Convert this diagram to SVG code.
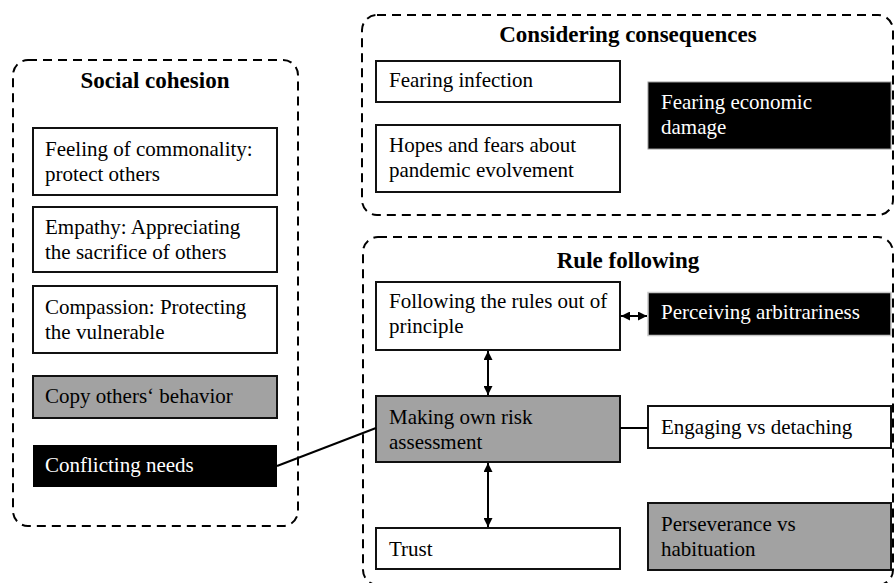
<svg xmlns="http://www.w3.org/2000/svg" width="895" height="583" viewBox="0 0 895 583">
<defs>
<marker id="ah" viewBox="0 0 10 10" refX="10" refY="5" markerWidth="9" markerHeight="9" markerUnits="userSpaceOnUse" orient="auto-start-reverse">
<path d="M0,0 L10,5 L0,10 z" fill="#000"/>
</marker>
<style>
.grp{fill:none;stroke:#000;stroke-width:2;stroke-dasharray:9,6}
.title{font-family:"Liberation Serif","Times New Roman",serif;font-size:23px;font-weight:bold;text-anchor:middle;fill:#000}
.t{font-family:"Liberation Serif","Times New Roman",serif;font-size:21px;fill:#000}
.w{fill:#fff;stroke:#111;stroke-width:2}
.g{fill:#a2a2a2;stroke:#111;stroke-width:2}
.b{fill:#000;stroke:#999;stroke-width:1}
.bt{font-family:"Liberation Serif","Times New Roman",serif;font-size:21px;fill:#fff}
.c{fill:none;stroke:#000;stroke-width:2}
</style>
</defs>
<rect width="895" height="583" fill="#fff"/>

<g id="social-cohesion">
<rect class="grp" x="13" y="60" width="285" height="466" rx="15"/>
<text class="title" x="155" y="88">Social cohesion</text>
</g>
<g id="considering-consequences">
<rect class="grp" x="362" y="15" width="531" height="200" rx="15"/>
<text class="title" x="628" y="42">Considering consequences</text>
</g>
<g id="rule-following">
<rect class="grp" x="363" y="237" width="530" height="348" rx="15"/>
<text class="title" x="628" y="268">Rule following</text>
</g>

<g id="feeling-commonality">
<rect class="w" x="33" y="128" width="244" height="67"/>
<text class="t" x="45" y="156">Feeling of commonality:</text>
<text class="t" x="45" y="181">protect others</text>
</g>
<g id="empathy">
<rect class="w" x="33" y="207" width="244" height="65"/>
<text class="t" x="45" y="234">Empathy: Appreciating</text>
<text class="t" x="45" y="259">the sacrifice of others</text>
</g>
<g id="compassion">
<rect class="w" x="33" y="286" width="244" height="67"/>
<text class="t" x="45" y="314">Compassion: Protecting</text>
<text class="t" x="45" y="339">the vulnerable</text>
</g>
<g id="copy-others">
<rect class="g" x="33" y="376" width="244" height="42"/>
<text class="t" x="45" y="403">Copy others‘ behavior</text>
</g>
<g id="conflicting-needs">
<rect fill="#000" x="33" y="445" width="244" height="42"/>
<text class="bt" x="45" y="472">Conflicting needs</text>
</g>

<g id="fearing-infection">
<rect class="w" x="376" y="61" width="244" height="41"/>
<text class="t" x="389" y="87">Fearing infection</text>
</g>
<g id="hopes-fears">
<rect class="w" x="376" y="125" width="244" height="67"/>
<text class="t" x="389" y="152">Hopes and fears about</text>
<text class="t" x="389" y="177">pandemic evolvement</text>
</g>
<g id="fearing-economic">
<rect class="b" x="648" y="82" width="243" height="67"/>
<text class="bt" x="661" y="109">Fearing economic</text>
<text class="bt" x="661" y="134">damage</text>
</g>

<g id="following-rules">
<rect class="w" x="376" y="282" width="244" height="68"/>
<text class="t" x="389" y="308">Following the rules out of</text>
<text class="t" x="389" y="333">principle</text>
</g>
<g id="perceiving-arbitrariness">
<rect fill="#000" stroke="#c8c8c8" stroke-width="1.5" x="648" y="292.5" width="243" height="43"/>
<text class="bt" x="661" y="319">Perceiving arbitrariness</text>
</g>
<g id="risk-assessment">
<rect class="g" x="376" y="396" width="244" height="66"/>
<text class="t" x="389" y="424">Making own risk</text>
<text class="t" x="389" y="449">assessment</text>
</g>
<g id="engaging-detaching">
<rect class="w" x="648" y="406" width="243" height="42"/>
<text class="t" x="661" y="434">Engaging vs detaching</text>
</g>
<g id="trust">
<rect class="w" x="376" y="528" width="244" height="41"/>
<text class="t" x="389" y="556">Trust</text>
</g>
<g id="perseverance">
<rect class="g" x="648" y="503" width="243" height="67"/>
<text class="t" x="661" y="531">Perseverance vs</text>
<text class="t" x="661" y="556">habituation</text>
</g>

<g id="connectors">
<line class="c" x1="621" y1="316" x2="647" y2="316" marker-start="url(#ah)" marker-end="url(#ah)"/>
<line class="c" x1="488" y1="351" x2="488" y2="395" marker-start="url(#ah)" marker-end="url(#ah)"/>
<line class="c" x1="488" y1="463" x2="488" y2="527" marker-start="url(#ah)" marker-end="url(#ah)"/>
<line class="c" x1="277" y1="466" x2="376" y2="428"/>
<line class="c" x1="620" y1="428" x2="648" y2="428"/>
</g>
</svg>
